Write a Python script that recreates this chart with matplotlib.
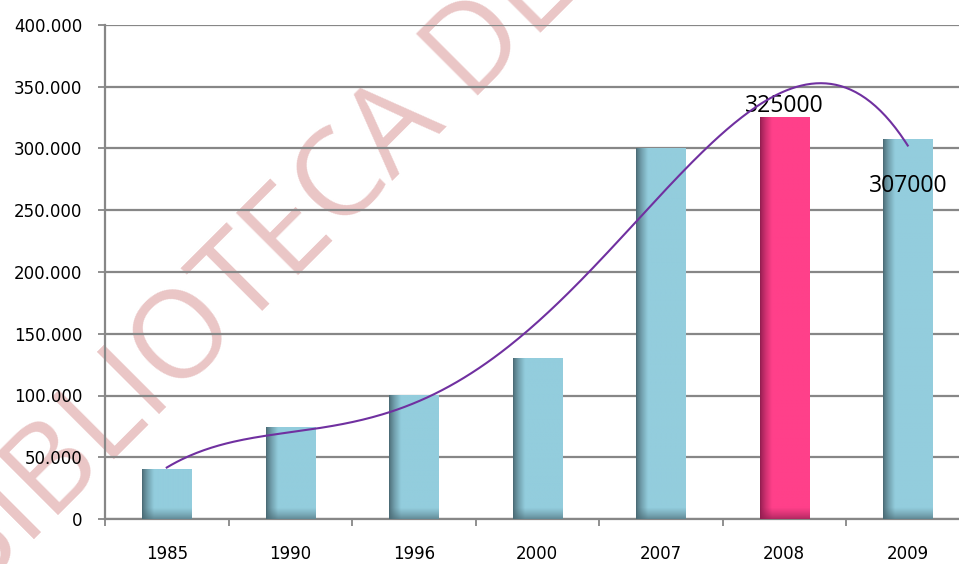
import numpy as np
import matplotlib
matplotlib.use("Agg")
import matplotlib.pyplot as plt
from matplotlib.colors import to_rgb

years = ["1985", "1990", "1996", "2000", "2007", "2008", "2009"]
values = [40000, 74000, 100000, 130000, 300000, 325000, 307000]
highlight = "2008"
label_years = ["2008", "2009"]
ytick_vals = [0, 50000, 100000, 150000, 200000, 250000, 300000, 350000, 400000]
ytick_labels = ["0", "50.000", "100.000", "150.000", "200.000", "250.000",
                "300.000", "350.000", "400.000"]

blue_light, blue_dark = "#93CDDD", "#4A6A74"
pink_light, pink_dark = "#FF408A", "#921D50"
trend_color = "#7030A0"
grid_color = "#878787"

fig = plt.figure(figsize=(9.59, 5.64), dpi=100)
ax = fig.add_axes([105/959, 45/564, 864.5/959, 494/564])
ax.patch.set_alpha(0)
ax.set_xlim(-0.5, len(years) - 0.5)
ax.set_ylim(0, 400000)

bw = 0.4
for i, (yr, v) in enumerate(zip(years, values)):
    lc, dc = (pink_light, pink_dark) if yr == highlight else (blue_light, blue_dark)
    lc, dc = np.array(to_rgb(lc)), np.array(to_rgb(dc))
    nx, ny = 60, 400
    t = np.linspace(0, 1, nx)
    hx = np.clip(t / 0.24, 0, 1) ** 0.75
    yy = np.linspace(v, 0, ny)
    vy = np.clip(yy / 9000, 0, 1) ** 0.8
    f = np.clip(hx[None, :] * (0.3 + 0.7 * vy[:, None]), 0, 1)
    img = dc[None, None, :] * (1 - f[..., None]) + lc[None, None, :] * f[..., None]
    ax.imshow(img, extent=[i - bw/2, i + bw/2, 0, v], aspect="auto",
              interpolation="bilinear", zorder=3)

# polynomial trend line
xi = np.arange(len(values))
coef = np.polyfit(xi, np.array(values, dtype=float), 4)
xs = np.linspace(0, len(values) - 1, 300)

# data labels
for i, (yr, v) in enumerate(zip(years, values)):
    if yr in label_years:
        if yr == highlight:
            ax.annotate(str(v), (i, v), xytext=(0, 0), textcoords="offset points",
                        ha="center", va="bottom", fontsize=16.5, family="Open Sans", zorder=4)
        else:
            ax.annotate(str(v), (i, v), xytext=(0, -33), textcoords="offset points",
                        ha="center", va="center", fontsize=16.5, family="Open Sans", zorder=4)

ax.plot(xs, np.polyval(coef, xs), color=trend_color, lw=1.5, zorder=5)

ax.set_yticks(ytick_vals)
ax.set_yticklabels(ytick_labels)
ax.yaxis.grid(True, color=grid_color, lw=1.6, zorder=0)
ax.set_axisbelow(True)
ax.set_xticks(np.arange(-0.5, len(years), 1), minor=False)
ax.set_xticklabels([])
ax.set_xticks(xi, minor=True)
ax.set_xticklabels(years, minor=True)
ax.tick_params(axis="x", which="minor", length=0, pad=18.5, labelsize=12)
ax.tick_params(axis="x", which="major", length=5, width=1.3, color=grid_color)
ax.tick_params(axis="y", length=5, width=1.3, color=grid_color, labelsize=12, pad=11.5)
for s in ["top", "right"]:
    ax.spines[s].set_visible(False)
for s in ["left", "bottom"]:
    ax.spines[s].set_color(grid_color)
    ax.spines[s].set_linewidth(1.6)

# watermark (behind the chart)
fig.text(-30/959, 1 - 603/564, "BIBLIOTECA DE", rotation=45, rotation_mode="anchor",
         ha="left", va="baseline", fontsize=88, color="#EAC6C6",
         family="Open Sans", zorder=-1)

fig.savefig("out.png", dpi=100)
